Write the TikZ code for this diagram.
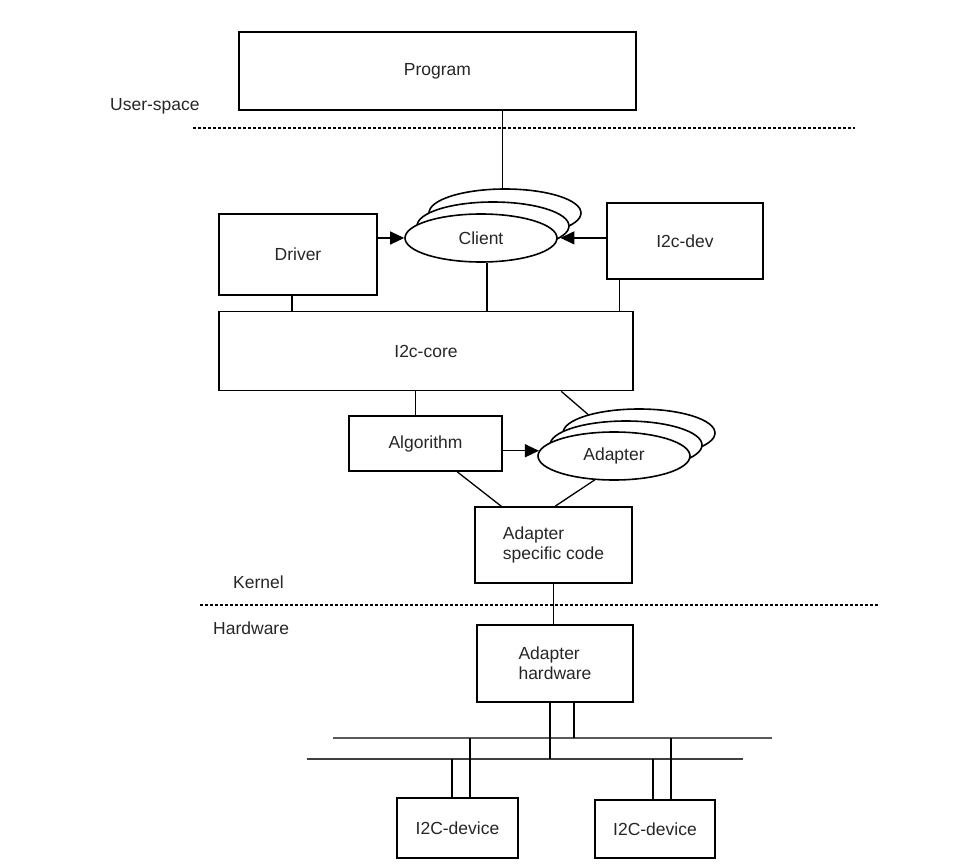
\documentclass[tikz,border=0pt]{standalone}
\usepackage{fontspec}
\setmainfont{Liberation Sans}
\usetikzlibrary{shapes.geometric,arrows.meta,calc}
\begin{document}
\begin{tikzpicture}[x=1pt,y=-1pt,
  txt/.style={font=\fontsize{17.5}{20}\selectfont,text=black!85},
  box/.style={draw,line width=1.6pt,inner sep=0pt,txt,align=left},
  ell/.style={draw,ellipse,fill=white,line width=1.6pt,minimum width=152pt,minimum height=48pt,inner sep=0pt,txt},
  conn/.style={line width=1.3pt},
  arr/.style={conn,-{Triangle[length=14pt,width=13pt]}},
  sepline/.style={line width=1.1pt,dash pattern=on 3pt off 2pt},
  lbl/.style={txt,anchor=west,inner sep=0pt},
  busup/.style={line width=2.6pt,draw=black!65},
  buslow/.style={line width=1.3pt,draw=black!75}]
\useasboundingbox (0,0) rectangle (967,864);

% boxes
\node[box,minimum width=397pt,minimum height=78pt] (program) at (437.5,71) {Program};
\node[box,minimum width=158pt,minimum height=81pt] (driver) at (298,254.5) {Driver};
\node[box,minimum width=156pt,minimum height=76pt] (i2cdev) at (685,241) {I2c-dev};
\node[box,minimum width=414pt,minimum height=79pt] (core) at (426,351) {I2c-core};
\node[box,minimum width=153pt,minimum height=55pt] (algo) at (425.5,443.5) {Algorithm};
\node[box,minimum width=157pt,minimum height=76pt] (asc) at (553.5,545) {Adapter\\specific code};
\node[box,minimum width=156pt,minimum height=77pt] (ah) at (555,663.5) {Adapter\\hardware};
\node[box,minimum width=121pt,minimum height=60pt] (dev1) at (457.5,828) {I2C-device};
\node[box,minimum width=120pt,minimum height=58pt] (dev2) at (655,829) {I2C-device};

% ellipses
\node[ell] (clientC) at (505,213) {};
\node[ell] (clientB) at (493,226) {};
\node[ell] (clientA) at (481,238) {Client};
\node[ell] (adapterC) at (639,433) {};
\node[ell] (adapterB) at (626,445) {};
\node[ell] (adapterA) at (614,456) {Adapter};

% labels
\node[lbl] (us) at (110,106) {User-space};
\node[lbl] (kern) at (233,582) {Kernel};
\node[lbl] (hw) at (213,628) {Hardware};

% separators
\coordinate (s1a) at (193,128); \coordinate (s1b) at (855,128);
\coordinate (s2a) at (200,605); \coordinate (s2b) at (878,605);
\draw[sepline] (s1a) -- (s1b);
\draw[sepline] (s2a) -- (s2b);

% attachment points
\coordinate (drvB) at ($(driver.south)+(-6,0)$);
\coordinate (cliB) at ($(clientA.south)+(6,0)$);
\coordinate (devB) at ($(i2cdev.south west)+(13,0)$);
\coordinate (algT) at ($(algo.north)+(-10,0)$);
\coordinate (coreR) at ($(core.south west)+(343,0)$);
\coordinate (algB) at ($(algo.south west)+(109,0)$);
\coordinate (ascL) at ($(asc.north west)+(27,0)$);
\coordinate (ascR) at ($(asc.north west)+(81,0)$);

% connectors
\draw[line width=1pt] (program.south -| clientC.95) -- (clientC.95);
\draw[arr] (driver.east |- clientA.west) -- (clientA.west);
\draw[arr] (i2cdev.west |- clientB.-10) -- (clientB.-10);
\draw[conn] (drvB) -- (drvB |- core.north);
\draw[conn] (cliB) -- (cliB |- core.north);
\draw[conn] (devB) -- (devB |- core.north);
\draw[conn] (algT |- core.south) -- (algT);
\draw[conn] (coreR) -- (adapterC.160);
\draw[arr] (algo.east |- adapterA.176) -- (adapterA.176);
\draw[conn] (algB) -- (ascL);
\draw[conn] (adapterA.231) -- (ascR);
\draw[conn] (asc.south) -- (asc.south |- ah.north);

% buses
\coordinate (upL) at (333,738); \coordinate (upR) at (772,738);
\coordinate (loL) at (307,759); \coordinate (loR) at (743,759);
\draw[busup] (upL) -- (upR);
\draw[buslow] (loL) -- (loR);
\coordinate (ahA) at (550,702); \coordinate (ahB) at (574,702);
\coordinate (d1A) at (452,798); \coordinate (d1B) at (470,798);
\coordinate (d2A) at (653,800); \coordinate (d2B) at (671,800);
\draw[conn] (ahA) -- (ahA |- loL);
\draw[conn] (ahB) -- (ahB |- upL);
\draw[conn] (d1A) -- (d1A |- loL);
\draw[conn] (d1B) -- (d1B |- upL);
\draw[conn] (d2A) -- (d2A |- loL);
\draw[conn] (d2B) -- (d2B |- upL);
\end{tikzpicture}
\end{document}
